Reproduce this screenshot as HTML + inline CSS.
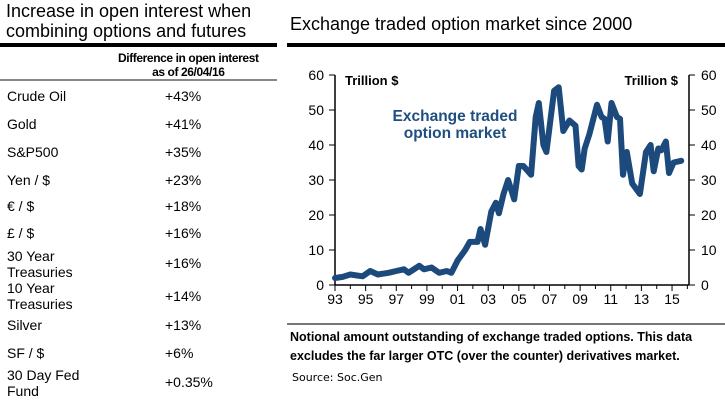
<!DOCTYPE html>
<html><head><meta charset="utf-8"><style>
body{margin:0;width:725px;height:400px;background:#fff;font-family:"Liberation Sans",Arial,sans-serif;color:#000;position:relative;overflow:hidden}
.a{position:absolute;white-space:nowrap}
.r{font-size:14px}
.v{font-size:14px;left:165px}
</style></head><body>
<div class="a" style="left:6px;top:1px;font-size:18px;line-height:20px">Increase in open interest when<br>combining options and futures</div>
<div class="a" style="left:0;top:43px;width:277px;height:4px;background:#000"></div>
<div class="a" style="left:118px;top:51px;font-size:12px;font-weight:bold;line-height:14px;text-align:center;letter-spacing:-0.4px">Difference in open interest<br>as of 26/04/16</div>
<div class="a" style="left:0;top:79px;width:277px;height:2px;background:#888"></div>
<div class="a r" style="left:7px;top:88px">Crude Oil</div><div class="a v" style="top:88px">+43%</div>
<div class="a r" style="left:7px;top:116px">Gold</div><div class="a v" style="top:116px">+41%</div>
<div class="a r" style="left:7px;top:144px">S&amp;P500</div><div class="a v" style="top:144px">+35%</div>
<div class="a r" style="left:7px;top:172px">Yen / $</div><div class="a v" style="top:172px">+23%</div>
<div class="a r" style="left:7px;top:198px">€ / $</div><div class="a v" style="top:198px">+18%</div>
<div class="a r" style="left:7px;top:225px">£ / $</div><div class="a v" style="top:225px">+16%</div>
<div class="a r" style="left:7px;top:248px;line-height:16px">30 Year<br>Treasuries</div><div class="a v" style="top:255px">+16%</div>
<div class="a r" style="left:7px;top:280px;line-height:16px">10 Year<br>Treasuries</div><div class="a v" style="top:288px">+14%</div>
<div class="a r" style="left:7px;top:317px">Silver</div><div class="a v" style="top:317px">+13%</div>
<div class="a r" style="left:7px;top:345px">SF / $</div><div class="a v" style="top:345px">+6%</div>
<div class="a r" style="left:7px;top:367px;line-height:16px">30 Day Fed<br>Fund</div><div class="a v" style="top:374px">+0.35%</div>

<div class="a" style="left:290px;top:14px;font-size:18px">Exchange traded option market since 2000</div>
<div class="a" style="left:287px;top:43px;width:438px;height:4px;background:#000"></div>
<div class="a" style="left:287px;top:323px;width:438px;height:2px;background:#777"></div>
<div class="a" style="left:290px;top:328px;font-size:12.5px;font-weight:bold;line-height:19px">Notional amount outstanding of exchange traded options. This data<br>excludes the far larger OTC (over the counter) derivatives market.</div>
<div class="a" style="left:292px;top:371px;font-size:11px;font-family:'DejaVu Sans',sans-serif">Source: Soc.Gen</div>

<svg class="a" style="left:0;top:0" width="725" height="400" id="s">
<g font-family="Liberation Sans,Arial,sans-serif" font-size="14" fill="#000">
<line x1="335" y1="75" x2="335" y2="285" stroke="#000" stroke-width="1.5"/>
<line x1="689" y1="75" x2="689" y2="285" stroke="#000" stroke-width="1.5"/>
<line x1="335" y1="285" x2="689" y2="285" stroke="#000" stroke-width="1.5"/>
<g id="ticks"></g>
<text x="345" y="85" font-weight="bold" font-size="13">Trillion $</text>
<text x="678" y="85" font-weight="bold" font-size="13" text-anchor="end">Trillion $</text>
<text x="455" y="121" font-weight="bold" font-size="15.5" fill="#1f4e80" text-anchor="middle">Exchange traded</text>
<text x="455" y="138" font-weight="bold" font-size="15.5" fill="#1f4e80" text-anchor="middle">option market</text>
<polyline id="p" fill="none" stroke="#1d4a7c" stroke-width="6" stroke-linejoin="round" stroke-linecap="round"/>
</g></svg>
<script>
var X=function(y){return 335+(y-1993)*15.32},Y=function(v){return 285-v*3.5};
var t=document.getElementById('ticks'),h='';
for(var i=0;i<=6;i++){var y=Y(i*10);
h+='<line x1="329" y1="'+y+'" x2="335" y2="'+y+'" stroke="#000"/><line x1="689" y1="'+y+'" x2="695" y2="'+y+'" stroke="#000"/>';
h+='<text x="324" y="'+(y+5)+'" text-anchor="end">'+(i*10)+'</text><text x="701" y="'+(y+5)+'">'+(i*10)+'</text>';}
for(var k=0;k<=23;k++){var x=X(1993+k);h+='<line x1="'+x+'" y1="285" x2="'+x+'" y2="'+(k%2?289:291)+'" stroke="#000"/>';}
['93','95','97','99','01','03','05','07','09','11','13','15'].forEach(function(s,j){h+='<text x="'+X(1993+2*j)+'" y="304" text-anchor="middle">'+s+'</text>';});
t.innerHTML=h;
var d=[[1993,2],[1993.5,2.3],[1994,3],[1994.8,2.5],[1995.3,4],[1995.8,3],[1996.5,3.5],[1997,4],[1997.5,4.5],[1997.8,3.5],[1998.5,5.5],[1998.8,4.5],[1999.3,5],[1999.8,3.5],[2000.3,4],[2000.6,3.5],[2001,7],[2001.5,10],[2001.8,12.3],[2002.3,12.3],[2002.5,16],[2002.8,11.5],[2003.2,21],[2003.5,23.5],[2003.7,20.5],[2004,26],[2004.3,30],[2004.7,24.5],[2005,34],[2005.3,34],[2005.8,31.5],[2006.1,48],[2006.3,52],[2006.6,40],[2006.8,38],[2007.3,55.5],[2007.6,56.5],[2007.9,44],[2008.3,47],[2008.7,45.5],[2008.9,34],[2009.1,33],[2009.3,39],[2009.6,43],[2010.1,51.5],[2010.4,48],[2010.6,47.5],[2010.8,41],[2011.05,52],[2011.4,48],[2011.6,47.5],[2011.8,31.5],[2012.05,38],[2012.4,29],[2012.9,26],[2013.3,38],[2013.6,40],[2013.8,32.5],[2014.1,39],[2014.3,38.5],[2014.6,41],[2014.8,32],[2015.1,35],[2015.6,35.5]];
document.getElementById('p').setAttribute('points',d.map(function(p){return X(p[0]).toFixed(1)+','+Y(p[1]).toFixed(1)}).join(' '));
</script>
</body></html>
